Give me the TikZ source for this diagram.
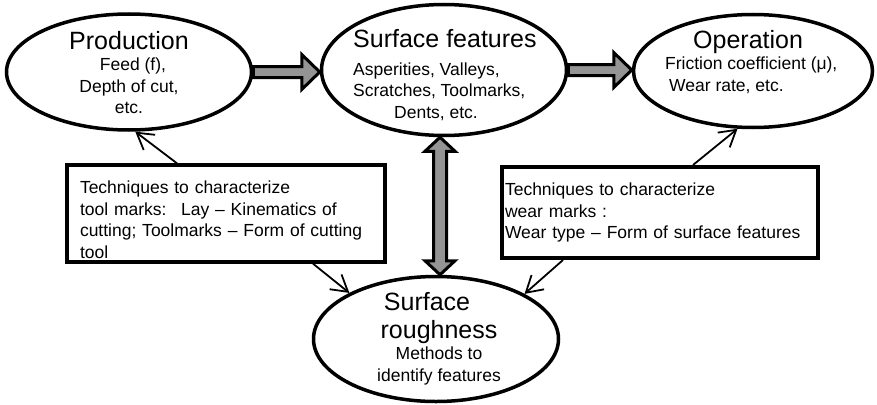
\documentclass[tikz,border=0pt]{standalone}
\usepackage{fontspec}
\setmainfont{Liberation Sans}
\usetikzlibrary{arrows.meta, calc, shapes.geometric}

\newcommand{\bodysize}{\fontsize{17.5}{21.5}\selectfont}
\newcommand{\titlesize}{\fontsize{25}{28}\selectfont}

\begin{document}
\begin{tikzpicture}[
    x=1pt, y={(0,-1pt)},
    oval/.style = {
        ellipse,
        draw,
        line width=3.5pt,
        inner sep=0pt
    },
    techbox/.style = {
        rectangle,
        draw,
        line width=4pt,
        align=left,
        font=\bodysize
    },
    ovaltxt/.style = {inner sep=0pt, font=\bodysize},
    blockarrow/.style = {draw, line width=3pt, fill=black!42, line join=miter},
    link/.style = {-{Straight Barb[length=16pt,width=19pt]}, line width=1.8pt}
]
\useasboundingbox (0,0) rectangle (877,404);

%% Ellipses
\node[oval, minimum width=245pt, minimum height=116pt] (prod)  at (129,72)  {};
\node[oval, minimum width=245pt, minimum height=131pt] (feat)  at (444,70)  {};
\node[oval, minimum width=239pt, minimum height=113pt] (oper)  at (753,71)  {};
\node[oval, minimum width=245pt, minimum height=125pt] (rough) at (436,339) {};

%% Texts in the ellipses
\node[ovaltxt, align=center, anchor=north] (prodtxt) at (129,31) {
    {\titlesize Production}\\
    \hspace*{8pt}Feed (f),\\
    Depth of cut,\\
    etc.
};
\node[ovaltxt, align=left, anchor=north west] (feattxt) at (353,29) {
    {\titlesize Surface features}\\[6.5pt]
    Asperities, Valleys,\\
    Scratches, Toolmarks,\\
    \hspace*{41pt}Dents, etc.
};
\node[ovaltxt, align=left, anchor=north west] (opertxt) at (665,30) {
    \hspace*{28pt}{\titlesize Operation}\\
    Friction coefficient (μ),\\
    \hspace*{4pt}Wear rate, etc.
};
\node[ovaltxt, align=center, anchor=north] (roughtxt) at (439,292) {
    {\titlesize Surface}\hspace*{24pt}\\[6.5pt]
    {\titlesize roughness}\hspace*{24pt}\\
    Methods to\\
    identify features
};

%% Boxes
\node[techbox, text width=292pt, inner xsep=13pt, minimum height=93pt] (lbox) at (226,213.5) {
    \rule{0pt}{25pt}Techniques to characterize\\
    tool marks:~ Lay -- Kinematics of\\
    cutting; Toolmarks -- Form of cutting\\
    tool
};
\node[techbox, text width=310pt, inner xsep=3pt, minimum height=91pt] (rbox) at (660,212.5) {
    Techniques to characterize\\
    wear marks :\\
    Wear type -- Form of surface features
};

%% Block arrows
\coordinate (fa1) at (prod.east -| feat.west);
\coordinate (fa2) at (feat.east -| oper.west);
\draw[blockarrow] ($(prod.east)+(0,-5.5)$) -- ($(fa1)+(-18,-5.5)$) -- ($(fa1)+(-18,-17.5)$)
    -- (fa1) -- ($(fa1)+(-18,17.5)$) -- ($(fa1)+(-18,5.5)$) -- ($(prod.east)+(0,5.5)$) -- cycle;
\draw[blockarrow] ($(feat.east)+(0,-5.5)$) -- ($(fa2)+(-18,-5.5)$) -- ($(fa2)+(-18,-17.5)$)
    -- (fa2) -- ($(fa2)+(-18,17.5)$) -- ($(fa2)+(-18,5.5)$) -- ($(feat.east)+(0,5.5)$) -- cycle;

\coordinate (vmid) at ($(feat.south)!0.5!(rough.north)$);
\coordinate (vt) at (vmid |- feat.south);
\coordinate (vb) at (vmid |- rough.north);
\draw[blockarrow] (vt) -- ($(vt)+(15,14)$) -- ($(vt)+(6.5,14)$) -- ($(vb)+(6.5,-14)$)
    -- ($(vb)+(15,-14)$) -- (vb) -- ($(vb)+(-15,-14)$) -- ($(vb)+(-6.5,-14)$)
    -- ($(vt)+(-6.5,14)$) -- ($(vt)+(-15,14)$) -- cycle;

%% Thin arrows
\draw[link] ($(lbox.north)+(-49,0)$) -- (prod.-84);
\draw[link] ($(lbox.south)+(87,0)$) -- (rough.152);
\draw[link] ($(rbox.north)+(33,0)$) -- (oper.-105);
\draw[link] ($(rbox.south)+(-97,0)$) -- (rough.27);

\end{tikzpicture}
\end{document}
